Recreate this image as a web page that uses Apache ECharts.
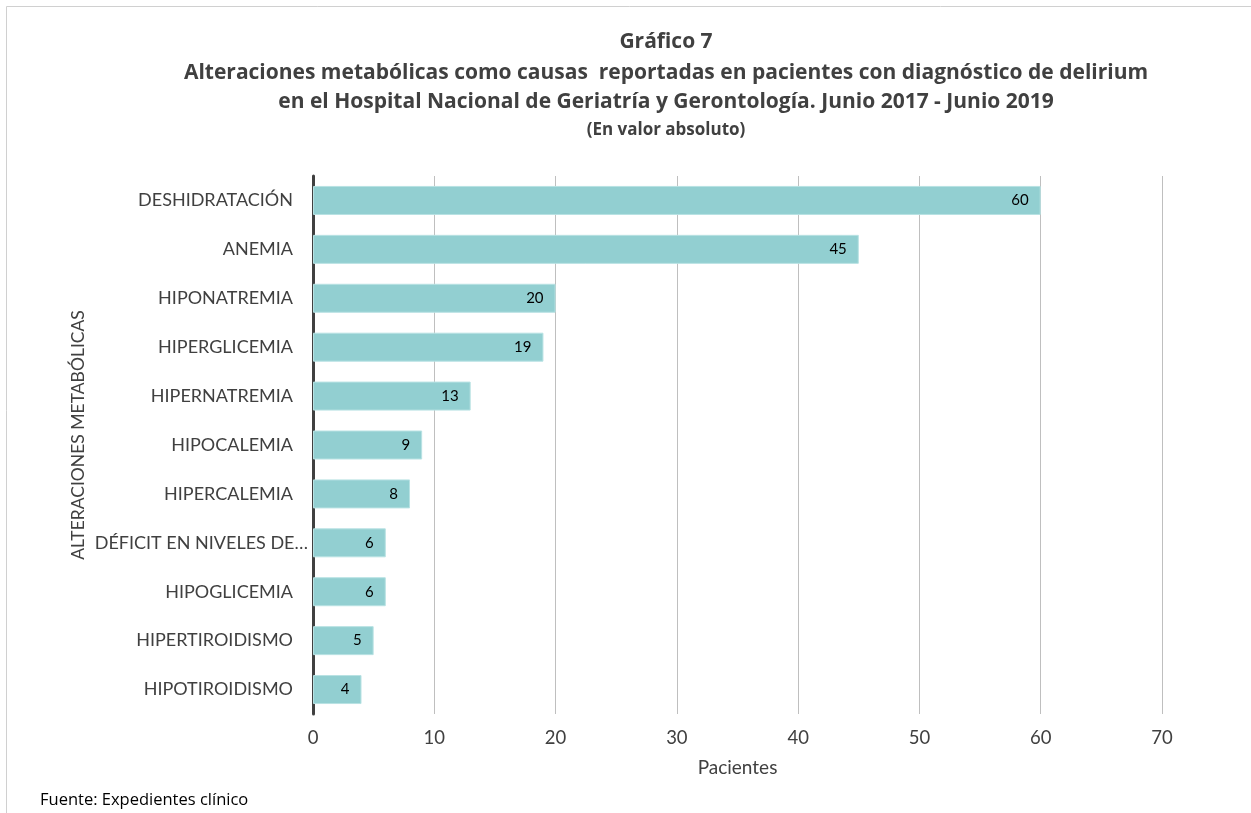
<!DOCTYPE html>
<html><head><meta charset="utf-8">
<script src="https://cdn.jsdelivr.net/npm/echarts@6/dist/echarts.min.js"></script>
<style>html,body{margin:0;padding:0;background:#fff}#c{width:1251px;height:813px}</style>
</head><body><div id="c"></div>
<script>
const categories = ["DESHIDRATACIÓN","ANEMIA","HIPONATREMIA","HIPERGLICEMIA","HIPERNATREMIA","HIPOCALEMIA","HIPERCALEMIA","DÉFICIT EN NIVELES DE…","HIPOGLICEMIA","HIPERTIROIDISMO","HIPOTIROIDISMO"];
const pacientes = [60,45,20,19,13,9,8,6,6,5,4];
const xTicks = {min:0, max:70, interval:10};
const titleLines = ["Gráfico 7","Alteraciones metabólicas como causas  reportadas en pacientes con diagnóstico de delirium","en el Hospital Nacional de Geriatría y Gerontología. Junio 2017 - Junio 2019"];
const subtitle = "(En valor absoluto)";
const yAxisTitle = "ALTERACIONES METABÓLICAS";
const xAxisTitle = "Pacientes";
const source = "Fuente: Expedientes clínico";
const FONT = "Lato, 'Open Sans', sans-serif";
const TFONT = "'Open Sans', Lato, sans-serif";

// truncated label overflows toward the axis like in the reference
const catData = categories.map(c => c.endsWith('…') ? {value:c, textStyle:{padding:[0,-15,0,0]}} : c);

const chart = echarts.init(document.getElementById('c'), null, {renderer:'canvas'});
chart.setOption({
  animation:false,
  backgroundColor:'#fff',
  graphic:[
    {type:'rect', shape:{x:6.5,y:6.5,width:1300,height:900}, style:{fill:'none', stroke:'#d0d0d0', lineWidth:1}},
    {type:'text', x:666, y:42, style:{text:titleLines[0], font:"bold 21px "+TFONT, fill:'#404040', textAlign:'center', textVerticalAlign:'middle'}},
    {type:'text', x:666, y:73, style:{text:titleLines[1], font:"bold 21px "+TFONT, fill:'#404040', textAlign:'center', textVerticalAlign:'middle'}},
    {type:'text', x:666, y:102, style:{text:titleLines[2], font:"bold 21px "+TFONT, fill:'#404040', textAlign:'center', textVerticalAlign:'middle'}},
    {type:'text', x:666, y:130, style:{text:subtitle, font:"bold 17px "+TFONT, fill:'#404040', textAlign:'center', textVerticalAlign:'middle'}},
    {type:'text', x:78, y:435, rotation:Math.PI/2, style:{text:yAxisTitle, font:"17.5px "+FONT, fill:'#404040', textAlign:'center', textVerticalAlign:'middle'}},
    {type:'text', x:40, y:800, style:{text:source, font:"16.5px "+TFONT, fill:'#000', textVerticalAlign:'middle'}}
  ],
  grid:{left:313, right:89, top:176, bottom:99, containLabel:false},
  xAxis:{
    type:'value', min:xTicks.min, max:xTicks.max, interval:xTicks.interval,
    name:xAxisTitle, nameLocation:'middle', nameGap:44,
    nameTextStyle:{fontFamily:FONT, fontSize:19, color:'#404040'},
    axisLine:{show:false}, axisTick:{show:false},
    axisLabel:{fontFamily:FONT, fontSize:18.5, color:'#404040', margin:15},
    splitLine:{lineStyle:{color:'#bfbfbf', width:1}}
  },
  yAxis:{
    type:'category', data:catData, inverse:true,
    axisLine:{lineStyle:{color:'#404040', width:3}}, axisTick:{show:false},
    axisLabel:{fontFamily:FONT, fontSize:18, color:'#404040', margin:20}
  },
  series:[{
    type:'bar', data:pacientes, barWidth:29,
    itemStyle:{color:'#92CFD1', borderColor:'#b8e2e3', borderWidth:1},
    label:{show:true, position:'insideRight', distance:12, fontFamily:FONT, fontSize:15, color:'#000'}
  }]
});
</script></body></html>
